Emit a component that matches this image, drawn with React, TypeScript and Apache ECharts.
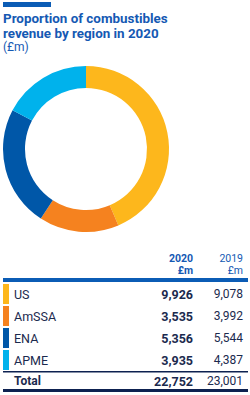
import React, { useEffect, useRef } from "react";
import * as echarts from "echarts";

const regions = ["US", "AmSSA", "ENA", "APME"];
const revenue2020 = [9926, 3535, 5356, 3935];
const revenue2019 = [9078, 3992, 5544, 4387];
const total2020 = 22752;
const total2019 = 23001;
const regionColors = ["#fdb71c", "#f5821f", "#0057a8", "#00b2ec"];

const fmt = (v: number) => v.toLocaleString("en-GB");

export default function App() {
  const ref = useRef<HTMLDivElement>(null);
  useEffect(() => {
    if (!ref.current) return;
    const chart = echarts.init(ref.current, null, { renderer: "svg" });
    const font = "Roboto, 'Noto Sans', sans-serif";
    const navy = "#1b2a4e";
    const blue = "#1559b3";
    const rowY = [294, 316, 338, 360];
    const graphics: any[] = [
      { type: "rect", shape: { x: 3, y: 2, width: 48, height: 5 }, style: { fill: "#0b5cb5" } },
      { type: "text", x: 3, y: 12, style: { text: "Proportion of combustibles", font: `bold 13.4px ${font}`, fill: blue } },
      { type: "text", x: 3, y: 27, style: { text: "revenue by region in 2020", font: `bold 13.4px ${font}`, fill: blue } },
      { type: "text", x: 3, y: 41, style: { text: "(£m)", font: `12px ${font}`, fill: blue } },
      { type: "text", x: 193, y: 253, style: { text: "2020", font: `bold 10.5px ${font}`, fill: blue, align: "right" } },
      { type: "text", x: 193, y: 265, style: { text: "£m", font: `bold 10.5px ${font}`, fill: blue, align: "right" } },
      { type: "text", x: 243, y: 253, style: { text: "2019", font: `10.5px ${font}`, fill: blue, align: "right" } },
      { type: "text", x: 243, y: 265, style: { text: "£m", font: `10.5px ${font}`, fill: blue, align: "right" } },
      { type: "rect", shape: { x: 3, y: 278, width: 245, height: 4 }, style: { fill: "#0b5cb5" } },
      { type: "rect", shape: { x: 3, y: 371, width: 245, height: 1.5 }, style: { fill: "#0d2150" } },
      { type: "rect", shape: { x: 3, y: 389, width: 245, height: 3 }, style: { fill: "#0d2150" } },
      { type: "text", x: 14, y: 381, style: { text: "Total", font: `bold 12px ${font}`, fill: navy, verticalAlign: "middle" } },
      { type: "text", x: 193, y: 381, style: { text: fmt(total2020), font: `bold 12.5px ${font}`, fill: navy, align: "right", verticalAlign: "middle" } },
      { type: "text", x: 243, y: 381, style: { text: fmt(total2019), font: `12px ${font}`, fill: navy, align: "right", verticalAlign: "middle" } },
    ];
    regions.forEach((r, i) => {
      const y = rowY[i];
      graphics.push(
        { type: "rect", shape: { x: 3, y: y - 10, width: 6, height: 20 }, style: { fill: regionColors[i] } },
        { type: "text", x: 14, y, style: { text: r, font: `12.5px ${font}`, fill: navy, verticalAlign: "middle" } },
        { type: "text", x: 193, y, style: { text: fmt(revenue2020[i]), font: `bold 12.5px ${font}`, fill: navy, align: "right", verticalAlign: "middle" } },
        { type: "text", x: 243, y, style: { text: fmt(revenue2019[i]), font: `12px ${font}`, fill: navy, align: "right", verticalAlign: "middle" } }
      );
    });
    chart.setOption({
      animation: false,
      series: [
        {
          type: "pie",
          center: [86, 149],
          radius: [61, 83],
          startAngle: 90,
          clockwise: true,
          label: { show: false },
          labelLine: { show: false },
          silent: true,
          data: regions.map((r, i) => ({ name: r, value: revenue2020[i], itemStyle: { color: regionColors[i] } })),
        },
      ],
      graphic: graphics,
    });
    return () => chart.dispose();
  }, []);
  return <div ref={ref} style={{ position: "absolute", left: 0, top: 0, width: 250, height: 395 }} />;
}
